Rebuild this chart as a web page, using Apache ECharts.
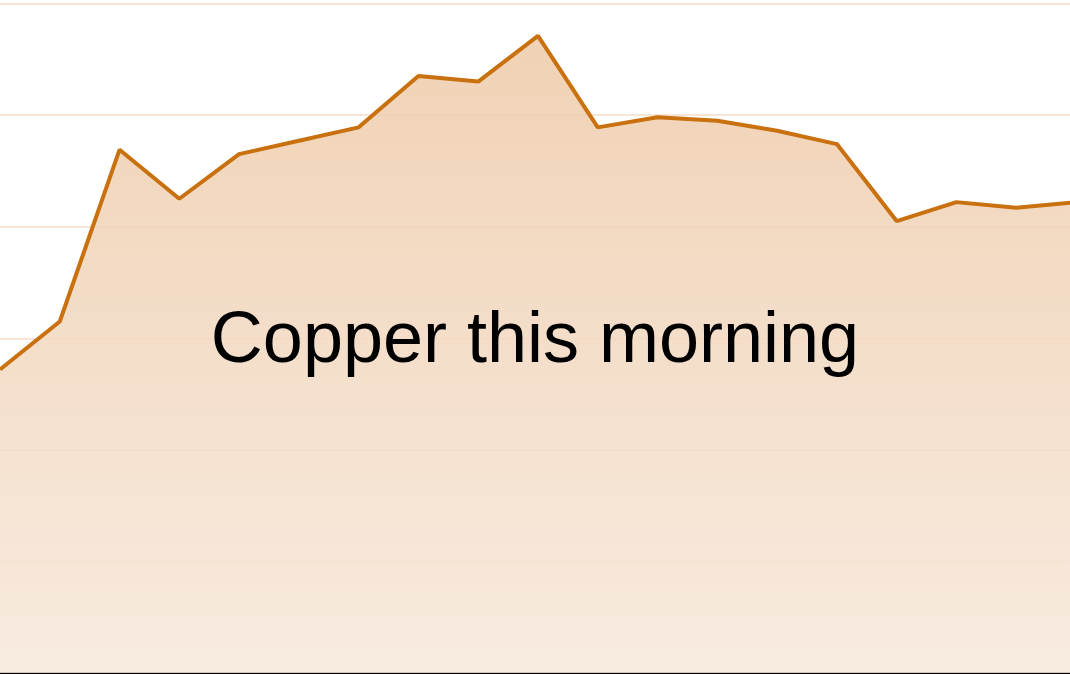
<!DOCTYPE html>
<html>
<head>
<meta charset="utf-8">
<script src="https://cdn.jsdelivr.net/npm/echarts@6/dist/echarts.min.js"></script>
<style>
  html, body { margin: 0; padding: 0; background: #fff; }
  #chart { width: 1070px; height: 674px; }
</style>
</head>
<body>
<div id="chart"></div>
<script>
// copper price this morning (arbitrary units)
const steps = [0, 1, 2, 3, 4, 5, 6, 7, 8, 9, 10, 11, 12, 13, 14, 15, 16, 17, 18];
const prices = [272, 315, 469, 425, 465, 477, 489, 535, 530, 571,
                489, 498, 495, 486, 474, 405, 422, 417, 422];
const yTicks = { min: 0, max: 600, interval: 100 };
const title = 'Copper this morning';

const myChart = echarts.init(document.getElementById('chart'));

const option = {
    animation: false,
    grid: { left: 0, right: 0, top: 3.5, bottom: 1 },
    xAxis: {
        type: 'value',
        // last point runs a little past the right edge
        min: 0,
        max: 17.9,
        axisLine: { show: true, onZero: false, lineStyle: { color: '#000', width: 2 } },
        axisTick: { show: false },
        axisLabel: { show: false },
        splitLine: { show: false }
    },
    yAxis: {
        type: 'value',
        min: yTicks.min,
        max: yTicks.max,
        interval: yTicks.interval,
        axisLine: { show: false },
        axisTick: { show: false },
        axisLabel: { show: false },
        splitLine: { show: true, lineStyle: { color: '#f7e6d8', width: 2 } }
    },
    series: [{
        type: 'line',
        data: steps.map((s, i) => [s, prices[i]]),
        symbol: 'none',
        clip: true,
        lineStyle: { color: '#c9700f', width: 4 },
        areaStyle: {
            opacity: 1,
            color: new echarts.graphic.LinearGradient(0, 0, 0, 1, [
                { offset: 0, color: 'rgba(238, 203, 169, 0.86)' },
                { offset: 1, color: 'rgba(247, 232, 219, 0.86)' }
            ])
        },
        z: 3
    }],
    graphic: [{
        type: 'text',
        left: 'center',
        top: 306,
        z: 10,
        style: {
            text: title,
            font: '72px "Liberation Sans", Arial, sans-serif',
            fill: '#000'
        }
    }]
};

myChart.setOption(option, true);
</script>
</body>
</html>
